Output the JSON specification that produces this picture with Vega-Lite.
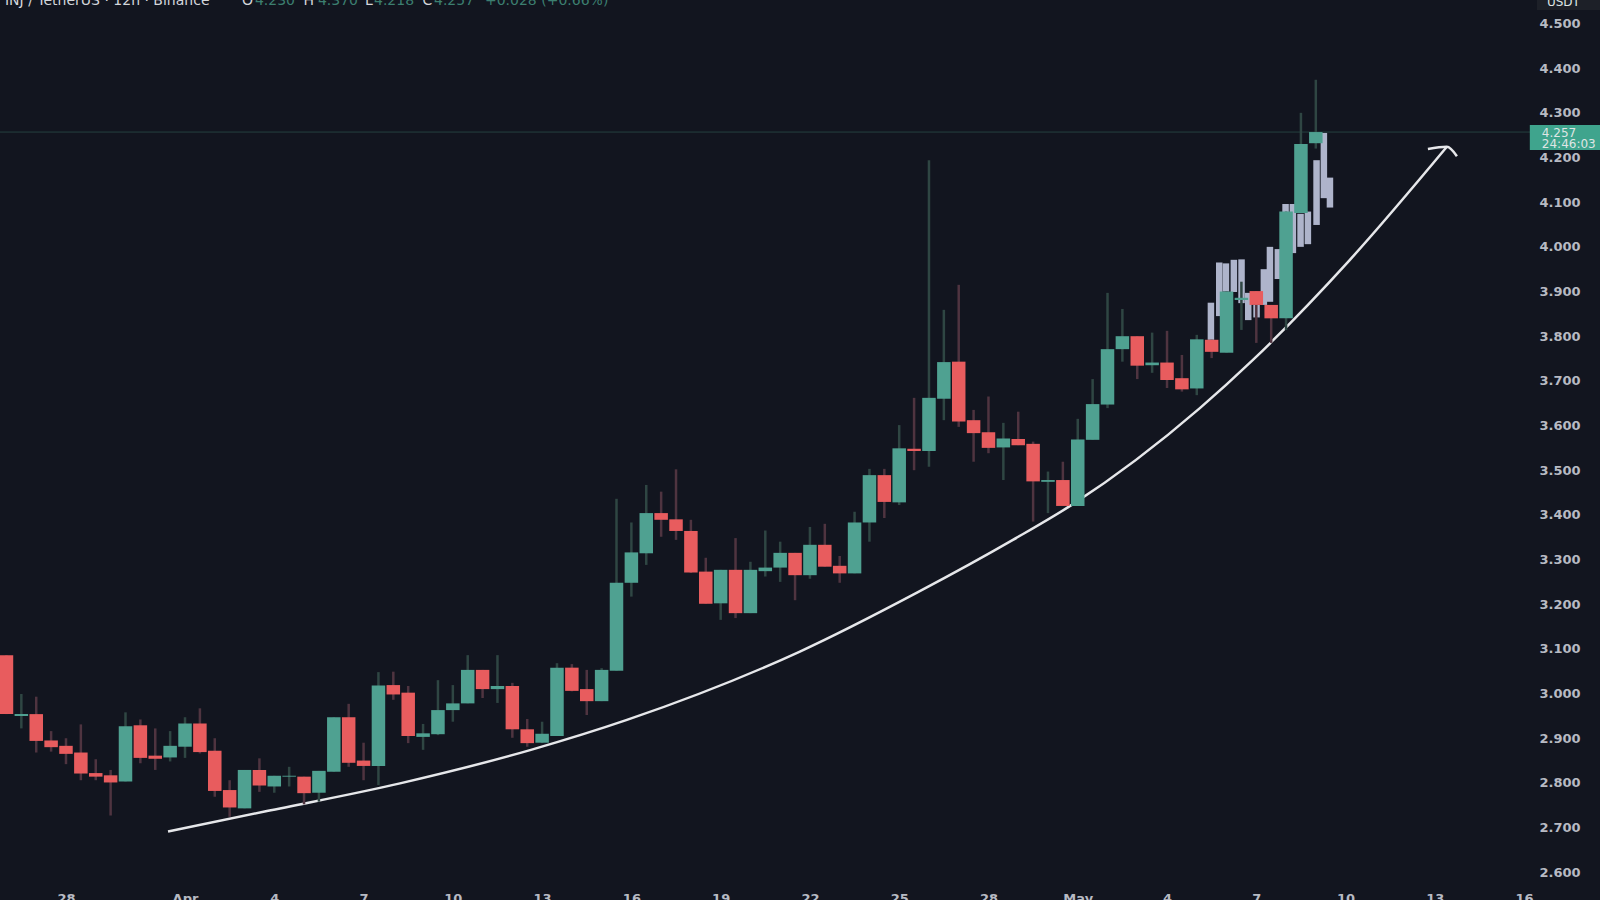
{
  "$schema": "https://vega.github.io/schema/vega-lite/v5.json",
  "width": 1600, "height": 900,
  "autosize": {"type": "none"},
  "padding": 0,
  "background": "#12151f",
  "datasets": {
    "candles": [
      {"t":"2023-03-26T00:00:00Z","open":3.086,"high":3.086,"low":2.954,"close":2.954},
      {"t":"2023-03-26T12:00:00Z","open":2.950,"high":2.999,"low":2.922,"close":2.954},
      {"t":"2023-03-27T00:00:00Z","open":2.954,"high":2.993,"low":2.868,"close":2.894},
      {"t":"2023-03-27T12:00:00Z","open":2.895,"high":2.916,"low":2.870,"close":2.880},
      {"t":"2023-03-28T00:00:00Z","open":2.883,"high":2.900,"low":2.842,"close":2.865},
      {"t":"2023-03-28T12:00:00Z","open":2.868,"high":2.931,"low":2.806,"close":2.821},
      {"t":"2023-03-29T00:00:00Z","open":2.822,"high":2.853,"low":2.806,"close":2.814},
      {"t":"2023-03-29T12:00:00Z","open":2.817,"high":2.829,"low":2.727,"close":2.801},
      {"t":"2023-03-30T00:00:00Z","open":2.803,"high":2.958,"low":2.803,"close":2.927},
      {"t":"2023-03-30T12:00:00Z","open":2.929,"high":2.942,"low":2.844,"close":2.856},
      {"t":"2023-03-31T00:00:00Z","open":2.861,"high":2.922,"low":2.829,"close":2.854},
      {"t":"2023-03-31T12:00:00Z","open":2.857,"high":2.916,"low":2.848,"close":2.883},
      {"t":"2023-04-01T00:00:00Z","open":2.881,"high":2.947,"low":2.856,"close":2.933},
      {"t":"2023-04-01T12:00:00Z","open":2.933,"high":2.967,"low":2.866,"close":2.869},
      {"t":"2023-04-02T00:00:00Z","open":2.872,"high":2.900,"low":2.769,"close":2.782},
      {"t":"2023-04-02T12:00:00Z","open":2.784,"high":2.806,"low":2.724,"close":2.745},
      {"t":"2023-04-03T00:00:00Z","open":2.743,"high":2.829,"low":2.743,"close":2.829},
      {"t":"2023-04-03T12:00:00Z","open":2.829,"high":2.855,"low":2.780,"close":2.794},
      {"t":"2023-04-04T00:00:00Z","open":2.792,"high":2.816,"low":2.778,"close":2.816},
      {"t":"2023-04-04T12:00:00Z","open":2.814,"high":2.836,"low":2.792,"close":2.816},
      {"t":"2023-04-05T00:00:00Z","open":2.814,"high":2.814,"low":2.752,"close":2.777},
      {"t":"2023-04-05T12:00:00Z","open":2.778,"high":2.827,"low":2.758,"close":2.827},
      {"t":"2023-04-06T00:00:00Z","open":2.825,"high":2.947,"low":2.825,"close":2.947},
      {"t":"2023-04-06T12:00:00Z","open":2.947,"high":2.977,"low":2.836,"close":2.845},
      {"t":"2023-04-07T00:00:00Z","open":2.850,"high":2.890,"low":2.806,"close":2.838},
      {"t":"2023-04-07T12:00:00Z","open":2.838,"high":3.048,"low":2.795,"close":3.018},
      {"t":"2023-04-08T00:00:00Z","open":3.019,"high":3.049,"low":2.986,"close":2.998},
      {"t":"2023-04-08T12:00:00Z","open":3.002,"high":3.017,"low":2.889,"close":2.905},
      {"t":"2023-04-09T00:00:00Z","open":2.903,"high":2.932,"low":2.874,"close":2.911},
      {"t":"2023-04-09T12:00:00Z","open":2.909,"high":3.030,"low":2.907,"close":2.963},
      {"t":"2023-04-10T00:00:00Z","open":2.963,"high":3.019,"low":2.937,"close":2.978},
      {"t":"2023-04-10T12:00:00Z","open":2.978,"high":3.086,"low":2.978,"close":3.053},
      {"t":"2023-04-11T00:00:00Z","open":3.053,"high":3.053,"low":2.990,"close":3.010},
      {"t":"2023-04-11T12:00:00Z","open":3.010,"high":3.086,"low":2.979,"close":3.017},
      {"t":"2023-04-12T00:00:00Z","open":3.017,"high":3.024,"low":2.901,"close":2.920},
      {"t":"2023-04-12T12:00:00Z","open":2.920,"high":2.943,"low":2.881,"close":2.889},
      {"t":"2023-04-13T00:00:00Z","open":2.890,"high":2.937,"low":2.889,"close":2.910},
      {"t":"2023-04-13T12:00:00Z","open":2.905,"high":3.068,"low":2.905,"close":3.058},
      {"t":"2023-04-14T00:00:00Z","open":3.058,"high":3.066,"low":3.005,"close":3.006},
      {"t":"2023-04-14T12:00:00Z","open":3.010,"high":3.053,"low":2.952,"close":2.983},
      {"t":"2023-04-15T00:00:00Z","open":2.983,"high":3.057,"low":2.983,"close":3.053},
      {"t":"2023-04-15T12:00:00Z","open":3.051,"high":3.436,"low":3.051,"close":3.248},
      {"t":"2023-04-16T00:00:00Z","open":3.248,"high":3.383,"low":3.217,"close":3.316},
      {"t":"2023-04-16T12:00:00Z","open":3.314,"high":3.467,"low":3.288,"close":3.404},
      {"t":"2023-04-17T00:00:00Z","open":3.404,"high":3.452,"low":3.351,"close":3.389},
      {"t":"2023-04-17T12:00:00Z","open":3.390,"high":3.502,"low":3.344,"close":3.364},
      {"t":"2023-04-18T00:00:00Z","open":3.364,"high":3.389,"low":3.270,"close":3.271},
      {"t":"2023-04-18T12:00:00Z","open":3.273,"high":3.304,"low":3.201,"close":3.201},
      {"t":"2023-04-19T00:00:00Z","open":3.202,"high":3.277,"low":3.165,"close":3.277},
      {"t":"2023-04-19T12:00:00Z","open":3.277,"high":3.348,"low":3.169,"close":3.180},
      {"t":"2023-04-20T00:00:00Z","open":3.180,"high":3.295,"low":3.180,"close":3.277},
      {"t":"2023-04-20T12:00:00Z","open":3.274,"high":3.365,"low":3.262,"close":3.282},
      {"t":"2023-04-21T00:00:00Z","open":3.282,"high":3.340,"low":3.250,"close":3.315},
      {"t":"2023-04-21T12:00:00Z","open":3.315,"high":3.315,"low":3.209,"close":3.265},
      {"t":"2023-04-22T00:00:00Z","open":3.265,"high":3.373,"low":3.257,"close":3.333},
      {"t":"2023-04-22T12:00:00Z","open":3.333,"high":3.380,"low":3.284,"close":3.284},
      {"t":"2023-04-23T00:00:00Z","open":3.286,"high":3.308,"low":3.248,"close":3.269},
      {"t":"2023-04-23T12:00:00Z","open":3.269,"high":3.407,"low":3.269,"close":3.383},
      {"t":"2023-04-24T00:00:00Z","open":3.383,"high":3.503,"low":3.340,"close":3.489},
      {"t":"2023-04-24T12:00:00Z","open":3.489,"high":3.503,"low":3.393,"close":3.429},
      {"t":"2023-04-25T00:00:00Z","open":3.428,"high":3.601,"low":3.422,"close":3.549},
      {"t":"2023-04-25T12:00:00Z","open":3.548,"high":3.662,"low":3.500,"close":3.543},
      {"t":"2023-04-26T00:00:00Z","open":3.543,"high":4.194,"low":3.508,"close":3.662},
      {"t":"2023-04-26T12:00:00Z","open":3.660,"high":3.859,"low":3.612,"close":3.742},
      {"t":"2023-04-27T00:00:00Z","open":3.743,"high":3.915,"low":3.597,"close":3.609},
      {"t":"2023-04-27T12:00:00Z","open":3.612,"high":3.635,"low":3.519,"close":3.583},
      {"t":"2023-04-28T00:00:00Z","open":3.585,"high":3.665,"low":3.538,"close":3.550},
      {"t":"2023-04-28T12:00:00Z","open":3.551,"high":3.606,"low":3.478,"close":3.571},
      {"t":"2023-04-29T00:00:00Z","open":3.570,"high":3.631,"low":3.556,"close":3.556},
      {"t":"2023-04-29T12:00:00Z","open":3.559,"high":3.564,"low":3.385,"close":3.475},
      {"t":"2023-04-30T00:00:00Z","open":3.474,"high":3.497,"low":3.404,"close":3.478},
      {"t":"2023-04-30T12:00:00Z","open":3.478,"high":3.519,"low":3.420,"close":3.420},
      {"t":"2023-05-01T00:00:00Z","open":3.420,"high":3.615,"low":3.420,"close":3.569},
      {"t":"2023-05-01T12:00:00Z","open":3.568,"high":3.704,"low":3.568,"close":3.648},
      {"t":"2023-05-02T00:00:00Z","open":3.647,"high":3.897,"low":3.639,"close":3.771},
      {"t":"2023-05-02T12:00:00Z","open":3.771,"high":3.861,"low":3.743,"close":3.800},
      {"t":"2023-05-03T00:00:00Z","open":3.800,"high":3.800,"low":3.704,"close":3.734},
      {"t":"2023-05-03T12:00:00Z","open":3.735,"high":3.808,"low":3.718,"close":3.741},
      {"t":"2023-05-04T00:00:00Z","open":3.741,"high":3.812,"low":3.684,"close":3.702},
      {"t":"2023-05-04T12:00:00Z","open":3.706,"high":3.758,"low":3.676,"close":3.681},
      {"t":"2023-05-05T00:00:00Z","open":3.683,"high":3.803,"low":3.668,"close":3.793},
      {"t":"2023-05-05T12:00:00Z","open":3.792,"high":3.792,"low":3.751,"close":3.765},
      {"t":"2023-05-06T00:00:00Z","open":3.763,"high":3.900,"low":3.763,"close":3.900},
      {"t":"2023-05-06T12:00:00Z","open":3.881,"high":3.922,"low":3.814,"close":3.886},
      {"t":"2023-05-07T00:00:00Z","open":3.901,"high":3.901,"low":3.785,"close":3.870},
      {"t":"2023-05-07T12:00:00Z","open":3.870,"high":3.870,"low":3.785,"close":3.840},
      {"t":"2023-05-08T00:00:00Z","open":3.840,"high":4.079,"low":3.814,"close":4.079},
      {"t":"2023-05-08T12:00:00Z","open":4.076,"high":4.300,"low":4.076,"close":4.230},
      {"t":"2023-05-09T00:00:00Z","open":4.232,"high":4.374,"low":4.220,"close":4.257}
    ],
    "projection": [
      {"t":"2023-05-05T11:24:00Z","top":3.875,"bottom":3.792},
      {"t":"2023-05-05T18:06:00Z","top":3.965,"bottom":3.845},
      {"t":"2023-05-05T23:30:00Z","top":3.963,"bottom":3.900},
      {"t":"2023-05-06T05:54:00Z","top":3.971,"bottom":3.899},
      {"t":"2023-05-06T12:06:00Z","top":3.972,"bottom":3.874},
      {"t":"2023-05-06T17:30:00Z","top":3.897,"bottom":3.836},
      {"t":"2023-05-07T00:12:00Z","top":3.870,"bottom":3.842},
      {"t":"2023-05-07T06:06:00Z","top":3.950,"bottom":3.870},
      {"t":"2023-05-07T11:00:00Z","top":4.000,"bottom":3.877},
      {"t":"2023-05-07T17:24:00Z","top":3.995,"bottom":3.928},
      {"t":"2023-05-07T23:36:00Z","top":4.096,"bottom":4.076},
      {"t":"2023-05-08T05:30:00Z","top":4.096,"bottom":3.986},
      {"t":"2023-05-08T11:42:00Z","top":4.074,"bottom":4.000},
      {"t":"2023-05-08T17:36:00Z","top":4.079,"bottom":4.006},
      {"t":"2023-05-09T00:36:00Z","top":4.194,"bottom":4.049},
      {"t":"2023-05-09T06:30:00Z","top":4.255,"bottom":4.109},
      {"t":"2023-05-09T11:24:00Z","top":4.155,"bottom":4.088}
    ],
    "trend": [
      {"part":"curve","n":1,"t":"2023-03-31T10:18:00Z","p":2.691},
      {"part":"curve","n":2,"t":"2023-04-03T18:06:00Z","p":2.737},
      {"part":"curve","n":3,"t":"2023-04-08T05:24:00Z","p":2.799},
      {"part":"curve","n":4,"t":"2023-04-12T15:00:00Z","p":2.874},
      {"part":"curve","n":5,"t":"2023-04-15T20:24:00Z","p":2.941},
      {"part":"curve","n":6,"t":"2023-04-21T15:54:00Z","p":3.094},
      {"part":"curve","n":7,"t":"2023-04-25T15:06:00Z","p":3.227},
      {"part":"curve","n":8,"t":"2023-04-28T19:42:00Z","p":3.344},
      {"part":"curve","n":9,"t":"2023-04-30T20:06:00Z","p":3.424},
      {"part":"curve","n":10,"t":"2023-05-05T02:30:00Z","p":3.639},
      {"part":"curve","n":11,"t":"2023-05-06T21:18:00Z","p":3.747},
      {"part":"curve","n":12,"t":"2023-05-10T03:30:00Z","p":3.971},
      {"part":"curve","n":13,"t":"2023-05-13T09:42:00Z","p":4.224},
      {"part":"head","n":1,"t":"2023-05-12T18:24:00Z","p":4.219},
      {"part":"head","n":2,"t":"2023-05-13T09:42:00Z","p":4.224},
      {"part":"head","n":3,"t":"2023-05-13T17:48:00Z","p":4.203}
    ],
    "header": [
      {"t":"2023-03-25T22:48:00Z","p":4.5504,"label":"INJ / TetherUS · 12h · Binance","kind":"name"},
      {"t":"2023-04-02T22:00:00Z","p":4.5504,"label":"O","kind":"name"},
      {"t":"2023-04-03T08:24:00Z","p":4.5504,"label":"4.230","kind":"value"},
      {"t":"2023-04-04T23:30:00Z","p":4.5504,"label":"H","kind":"name"},
      {"t":"2023-04-05T11:12:00Z","p":4.5504,"label":"4.370","kind":"value"},
      {"t":"2023-04-07T01:06:00Z","p":4.5504,"label":"L","kind":"name"},
      {"t":"2023-04-07T08:24:00Z","p":4.5504,"label":"4.218","kind":"value"},
      {"t":"2023-04-08T23:30:00Z","p":4.5504,"label":"C","kind":"name"},
      {"t":"2023-04-09T08:48:00Z","p":4.5504,"label":"4.257","kind":"value"},
      {"t":"2023-04-11T01:54:00Z","p":4.5504,"label":"+0.028 (+0.66%)","kind":"value"}
    ],
    "scaleTags": [
      {"t":"2023-05-16T10:18:00Z","t2":"2023-05-18T13:12:00Z","top":4.5526,"bottom":4.530,"kind":"unit"},
      {"t":"2023-05-16T04:36:00Z","t2":"2023-05-18T13:12:00Z","top":4.2728,"bottom":4.2168,"kind":"last"}
    ],
    "scaleText": [
      {"t":"2023-05-16T18:24:00Z","p":4.548,"label":"USDT"},
      {"t":"2023-05-16T14:18:00Z","p":4.2555,"label":"4.257"},
      {"t":"2023-05-16T14:18:00Z","p":4.2302,"label":"24:46:03"}
    ],
    "last": [{"p":4.257}]
  },
  "layer": [
    {
      "data": {"name": "last"},
      "mark": {"type": "rule", "color": "#25403f", "strokeWidth": 1},
      "encoding": {
        "y": {"field": "p", "type": "quantitative", "title": null,
          "scale": {"domain": [2.53787, 4.55261], "nice": false, "zero": false},
          "axis": {"orient": "right", "offset": -61, "values": [2.6,2.7,2.8,2.9,3.0,3.1,3.2,3.3,3.4,3.5,3.6,3.7,3.8,3.9,4.0,4.1,4.2,4.3,4.4,4.5],
            "format": ".3f", "domain": false, "ticks": false, "grid": false, "labelPadding": 0, "labelAlign": "left",
            "labelFont": "DejaVu Sans", "labelFontWeight": "bold", "labelFontSize": 13, "labelColor": "#b7bac3", "labelBound": false, "labelOverlap": false, "title": null}
        }
      }
    },
    {
      "data": {"name": "trend"},
      "mark": {"type": "line", "color": "#e6e7ea", "strokeWidth": 2.5, "interpolate": "monotone"},
      "encoding": {
        "x": {"field": "t", "type": "temporal", "title": null,
          "scale": {"type": "utc", "domain": ["2023-03-25T18:47:00Z", "2023-05-18T13:12:00Z"], "nice": false, "padding": 0},
          "axis": {"orient": "bottom", "offset": -8, "grid": false, "domain": false, "ticks": false, "labelPadding": 0,
            "values": ["2023-03-28T00:00:00Z","2023-04-01T00:00:00Z","2023-04-04T00:00:00Z","2023-04-07T00:00:00Z","2023-04-10T00:00:00Z","2023-04-13T00:00:00Z","2023-04-16T00:00:00Z","2023-04-19T00:00:00Z","2023-04-22T00:00:00Z","2023-04-25T00:00:00Z","2023-04-28T00:00:00Z","2023-05-01T00:00:00Z","2023-05-04T00:00:00Z","2023-05-07T00:00:00Z","2023-05-10T00:00:00Z","2023-05-13T00:00:00Z","2023-05-16T00:00:00Z"],
            "labelExpr": "utcdate(datum.value) == 1 ? utcFormat(datum.value, '%b') : utcFormat(datum.value, '%-d')",
            "labelFont": "DejaVu Sans", "labelFontWeight": "bold", "labelFontSize": 13, "labelColor": "#b7bac3", "labelBaseline": "top", "labelAngle": 0, "labelFlush": false, "labelBound": false, "labelOverlap": false, "title": null}
        },
        "y": {"field": "p", "type": "quantitative", "title": null, "scale": {"domain": [2.53787, 4.55261], "nice": false, "zero": false}},
        "detail": {"field": "part"},
        "order": {"field": "n", "type": "quantitative"}
      }
    },
    {
      "data": {"name": "projection"},
      "mark": {"type": "bar", "size": 6.5, "color": "#aeb4cb"},
      "encoding": {
        "x": {"field": "t", "type": "temporal", "title": null},
        "y": {"field": "top", "type": "quantitative", "title": null, "scale": {"domain": [2.53787, 4.55261], "nice": false, "zero": false}},
        "y2": {"field": "bottom"}
      }
    },
    {
      "data": {"name": "candles"},
      "mark": {"type": "rule", "strokeWidth": 2.5},
      "encoding": {
        "x": {"field": "t", "type": "temporal", "title": null},
        "y": {"field": "high", "type": "quantitative", "title": null, "scale": {"domain": [2.53787, 4.55261], "nice": false, "zero": false}},
        "y2": {"field": "low"},
        "color": {"condition": {"test": "datum.close >= datum.open", "value": "#2f4643"}, "value": "#4f3440"}
      }
    },
    {
      "data": {"name": "candles"},
      "mark": {"type": "bar", "size": 13.5},
      "encoding": {
        "x": {"field": "t", "type": "temporal", "title": null},
        "y": {"field": "open", "type": "quantitative", "title": null, "scale": {"domain": [2.53787, 4.55261], "nice": false, "zero": false}},
        "y2": {"field": "close"},
        "color": {"condition": {"test": "datum.close >= datum.open", "value": "#4fa191"}, "value": "#e85c5e"}
      }
    },
    {
      "data": {"name": "scaleTags"},
      "mark": {"type": "rect"},
      "encoding": {
        "x": {"field": "t", "type": "temporal", "title": null},
        "x2": {"field": "t2"},
        "y": {"field": "top", "type": "quantitative", "title": null, "scale": {"domain": [2.53787, 4.55261], "nice": false, "zero": false}},
        "y2": {"field": "bottom"},
        "color": {"field": "kind", "type": "nominal", "legend": null, "scale": {"domain": ["unit", "last", "name", "value"], "range": ["#1d2028", "#3fa48d", "#d4d6db", "#3c7f70"]}}
      }
    },
    {
      "data": {"name": "scaleText"},
      "mark": {"type": "text", "align": "left", "baseline": "middle", "font": "DejaVu Sans", "fontSize": 12, "color": "#dfe5e4"},
      "encoding": {
        "x": {"field": "t", "type": "temporal", "title": null},
        "y": {"field": "p", "type": "quantitative", "title": null, "scale": {"domain": [2.53787, 4.55261], "nice": false, "zero": false}},
        "text": {"field": "label"}
      }
    },
    {
      "data": {"name": "header"},
      "mark": {"type": "text", "align": "left", "baseline": "middle", "font": "DejaVu Sans", "fontSize": 14},
      "encoding": {
        "x": {"field": "t", "type": "temporal", "title": null},
        "y": {"field": "p", "type": "quantitative", "title": null, "scale": {"domain": [2.53787, 4.55261], "nice": false, "zero": false}},
        "text": {"field": "label"},
        "color": {"field": "kind", "type": "nominal", "legend": null, "scale": {"domain": ["unit", "last", "name", "value"], "range": ["#1d2028", "#3fa48d", "#d4d6db", "#3c7f70"]}}
      }
    }
  ],
  "config": {"view": {"stroke": null}}
}
